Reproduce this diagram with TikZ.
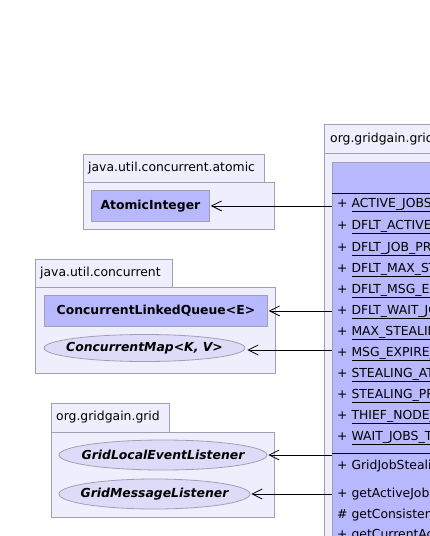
\documentclass[tikz,border=0pt]{standalone}
\usepackage{fontspec}
\setmainfont{DejaVu Sans}
\usetikzlibrary{arrows.meta,shapes.geometric}
\definecolor{pkgfill}{HTML}{EEEEFC}
\definecolor{pkgline}{HTML}{A0A0B4}
\definecolor{clsfill}{HTML}{B8B8FF}
\definecolor{ellfill}{HTML}{DCDCF8}
\tikzset{
  pkg/.style={draw=pkgline,fill=pkgfill,line width=0.8pt},
  tabtxt/.style={anchor=west,font=\fontsize{12.4}{14}\selectfont,inner sep=0pt},
  clsbox/.style={draw=pkgline,fill=clsfill,line width=0.8pt,font=\fontsize{12.4}{14}\selectfont\bfseries,inner sep=0pt},
  iface/.style={ellipse,draw=pkgline,fill=ellfill,line width=0.8pt,font=\fontsize{12.4}{14}\selectfont\bfseries\itshape,inner xsep=-12pt,inner ysep=0pt},
  row/.style={anchor=west,font=\fontsize{12.4}{14}\selectfont,inner sep=0pt},
  dep/.style={-{Straight Barb[length=10pt,width=10pt]},line width=0.8pt,black},
}
\newcommand{\ul}[1]{\underline{#1}}
\begin{document}
\begin{tikzpicture}[x=1pt,y=-1pt]
\useasboundingbox (0,0) rectangle (430,536);
\clip (0,0) rectangle (430,536);
\fill[white] (0,0) rectangle (430,536);
% package 1
\draw[pkg] (83,154) rectangle (264,182);
\node[tabtxt] (p1) at (88,168) {java.util.concurrent.atomic};
\draw[pkg] (83,182) rectangle (274,229);
\node[clsbox,minimum width=118pt,minimum height=31pt,anchor=north west] (ai) at (91,190) {AtomicInteger};
% package 2
\draw[pkg] (35,259) rectangle (172,287);
\node[tabtxt] (p2) at (40,273) {java.util.concurrent};
\draw[pkg] (35,287) rectangle (275,373);
\node[clsbox,minimum width=223pt,minimum height=31pt,anchor=north west] (clq) at (44,295) {ConcurrentLinkedQueue<E>};
\node[iface,minimum width=201pt,minimum height=27pt] (cm) at (144.5,348) {ConcurrentMap<K, V>};
% package 3
\draw[pkg] (51,403) rectangle (169,432);
\node[tabtxt] (p3) at (56,417) {org.gridgain.grid};
\draw[pkg] (51,432) rectangle (274,517);
\node[iface,minimum width=208pt,minimum height=30pt] (gl) at (163,455) {GridLocalEventListener};
\node[iface,minimum width=191pt,minimum height=30pt] (gm) at (154.5,494) {GridMessageListener};
% right package
\draw[pkg] (324,124) rectangle (450,153);
\node[tabtxt] (p4) at (330,139) {org.gridgain.grid.spi.collision.jobstealing};
\draw[pkg] (324,153) rectangle (450,560);
\node[draw=pkgline,fill=clsfill,line width=0.8pt,minimum width=130pt,minimum height=400pt,anchor=north west,inner sep=0pt] (cls) at (332,162) {};
\draw[black,line width=0.8pt] (332,193) -- (462,193);
\draw[black,line width=0.8pt] (332,453) -- (462,453);
\node[row] (r1) at (337,205) {+ \ul{ACTIVE\_JOBS\_THRESHOLD\_ATTR}};
\node[row] (r2) at (337,227) {+ \ul{DFLT\_ACTIVE\_JOBS\_THRESHOLD}};
\node[row] (r3) at (337,249) {+ \ul{DFLT\_JOB\_PRIORITY}};
\node[row] (r4) at (337,270) {+ \ul{DFLT\_MAX\_STEALING\_ATTEMPTS}};
\node[row] (r5) at (337,291) {+ \ul{DFLT\_MSG\_EXPIRE\_TIME}};
\node[row] (r6) at (337,312) {+ \ul{DFLT\_WAIT\_JOBS\_THRESHOLD}};
\node[row] (r7) at (337,333) {+ \ul{MAX\_STEALING\_ATTEMPT\_ATTR}};
\node[row] (r8) at (337,354) {+ \ul{MSG\_EXPIRE\_TIME\_ATTR}};
\node[row] (r9) at (337,375) {+ \ul{STEALING\_ATTEMPT\_COUNT\_ATTR}};
\node[row] (r10) at (337,396) {+ \ul{STEALING\_PRIORITY\_ATTR}};
\node[row] (r11) at (337,417) {+ \ul{THIEF\_NODE\_ATTR}};
\node[row] (r12) at (337,438) {+ \ul{WAIT\_JOBS\_THRESHOLD\_ATTR}};
\node[row] (m1) at (337,466) {+ GridJobStealingCollisionSpi()};
\node[row] (m2) at (337,494) {+ getActiveJobsThreshold()};
\node[row] (m3) at (337,515) {\# getConsistentAttributeNames()};
\node[row] (m4) at (337,535) {+ getCurrentActiveJobsNumber()};
% connectors
\draw[dep] (ai.east -| cls.west) -- ([xshift=1pt]ai.east);
\draw[dep] (clq.east -| cls.west) -- ([xshift=1pt]clq.east);
\draw[dep] (cls.west |- 0,350) -- ([xshift=2pt]cm.east |- 0,350);
\draw[dep] (gl.east -| cls.west) -- ([xshift=1pt]gl.east);
\draw[dep] (gm.east -| cls.west) -- ([xshift=1pt]gm.east);
\end{tikzpicture}
\end{document}
